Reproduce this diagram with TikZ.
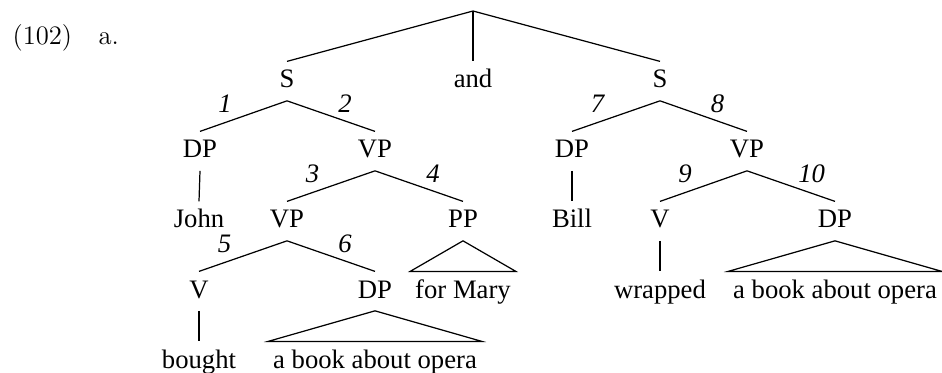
\documentclass[tikz,border=0pt]{standalone}
\usepackage{fontspec}
\usepackage{tikz}
\newfontfamily\treefont{Liberation Serif}

\begin{document}
\begin{tikzpicture}[x=0.45pt,y=-0.45pt,line width=0.55pt,
  lab/.style={anchor=base, inner xsep=2pt, inner ysep=0pt, text height=11.7pt, text depth=5.5pt, font=\treefont\fontsize{12}{14}\selectfont},
  nl/.style={pos=0.5, anchor=south east, inner sep=0pt, xshift=-5pt, yshift=1.2pt, font=\treefont\itshape\fontsize{12}{14}\selectfont},
  nr/.style={pos=0.5, anchor=south west, inner sep=0pt, xshift=3pt, yshift=1.2pt, font=\treefont\itshape\fontsize{12}{14}\selectfont}]
\useasboundingbox (0,0) rectangle (942,373);
\node[anchor=base west, inner sep=0pt, font=\fontsize{12}{14}\selectfont] (ex) at (12,45) {(102)};
\node[anchor=base west, inner sep=0pt, font=\fontsize{12}{14}\selectfont] (a) at (98,45) {a.};
\coordinate (root) at (473,11);
% first conjunct
\node[lab] (S1) at (287,88) {S};
\node[lab] (and) at (473,88) {and};
\node[lab] (S2) at (660,88) {S};
\node[lab] (DP1) at (200,158) {DP};
\node[lab] (VP1) at (375,158) {VP};
\node[lab] (John) at (199,228) {John};
\node[lab] (VP2) at (287,228) {VP};
\node[lab] (PP) at (463,228) {PP};
\node[lab] (V1) at (199,298) {V};
\node[lab] (DP2) at (375,298) {DP};
\node[lab] (Mary) at (463,298) {for Mary};
\node[lab] (bought) at (199,368) {bought};
\node[lab] (book1) at (375,368) {a book about opera};
% second conjunct
\node[lab] (DP3) at (572,158) {DP};
\node[lab] (VP3) at (747,158) {VP};
\node[lab] (Bill) at (572,228) {Bill};
\node[lab] (V2) at (660,228) {V};
\node[lab] (DP4) at (835,228) {DP};
\node[lab] (wrapped) at (660,298) {wrapped};
\node[lab] (book2) at (835,298) {a book about opera};
\draw (root)--(S1.north);
\draw (root)--(and.north);
\draw (root)--(S2.north);
\draw (S1.south)--(DP1.north) node[nl]{1};
\draw (S1.south)--(VP1.north) node[nr]{2};
\draw (DP1.south)--(John.north);
\draw (VP1.south)--(VP2.north) node[nl]{3};
\draw (VP1.south)--(PP.north) node[nr]{4};
\draw (VP2.south)--(V1.north) node[nl]{5};
\draw (VP2.south)--(DP2.north) node[nr]{6};
\draw (PP.south)--(Mary.north west)--(Mary.north east)--cycle;
\draw (V1.south)--(bought.north);
\draw (DP2.south)--(book1.north west)--(book1.north east)--cycle;
\draw (S2.south)--(DP3.north) node[nl]{7};
\draw (S2.south)--(VP3.north) node[nr]{8};
\draw (DP3.south)--(Bill.north);
\draw (VP3.south)--(V2.north) node[nl]{9};
\draw (VP3.south)--(DP4.north) node[nr]{10};
\draw (V2.south)--(wrapped.north);
\draw (DP4.south)--(book2.north west)--(book2.north east)--cycle;
\end{tikzpicture}
\end{document}
